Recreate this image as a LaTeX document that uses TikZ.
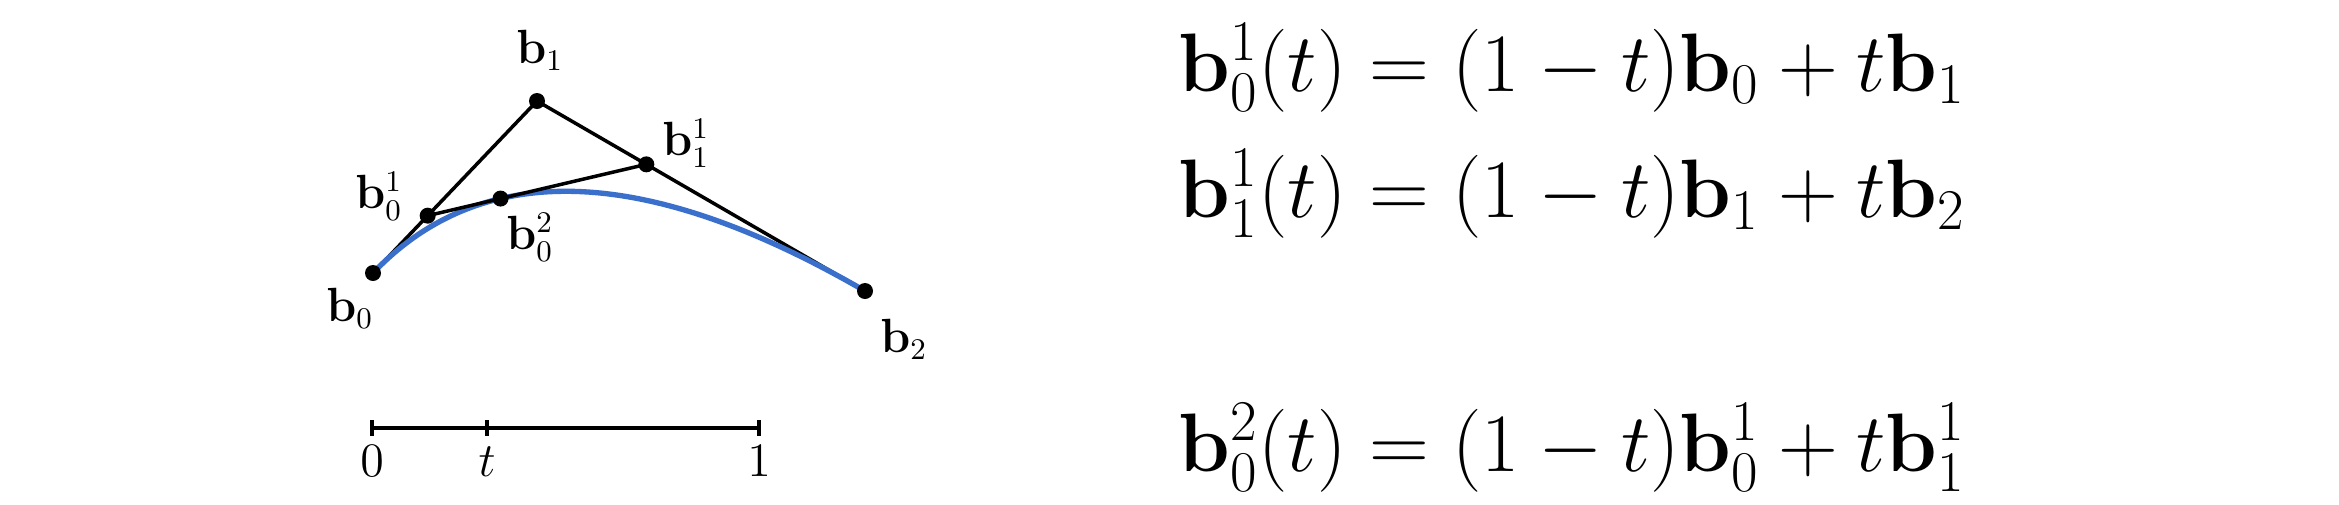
\documentclass[tikz,border=0pt]{standalone}
\usetikzlibrary{calc}
\definecolor{curveblue}{RGB}{58,112,204}
\begin{document}
\begin{tikzpicture}[x=0.3pt,y=-0.3pt,
  dot/.style={circle,fill=black,inner sep=0pt,minimum size=4.8pt},
  poly/.style={line width=1.05pt,line cap=round,line join=round},
  lbl/.style={inner sep=0pt,font=\fontsize{13.5}{16}\selectfont},
  numlbl/.style={inner sep=0pt,anchor=base,font=\fontsize{14.5}{17}\selectfont},
  eqn/.style={inner sep=0pt,anchor=base west,font=\fontsize{23.5}{28}\selectfont},
  numline/.style={line width=1.4pt}]
\useasboundingbox[fill=white] (0,0) rectangle (2339,504);
% control points
\coordinate (b0) at (373,273);
\coordinate (b1) at (537,101);
\coordinate (b2) at (865,291);
\coordinate (b01) at ($(b0)!1/3!(b1)$);
\coordinate (b11) at ($(b1)!1/3!(b2)$);
\coordinate (b02) at ($(b01)!1/3!(b11)$);
% control polygon
\draw[poly] (b0) -- (b1) -- (b2);
% curve
\draw[line width=1.6pt,curveblue] (b0) .. controls ($(b0)!2/3!(b1)$) and ($(b2)!2/3!(b1)$) .. (b2);
\draw[poly] (b01) -- (b11);
% dots
\node[dot] (d0) at (b0) {};
\node[dot] (d1) at (b1) {};
\node[dot] (d2) at (b2) {};
\node[dot] (d01) at (b01) {};
\node[dot] (d11) at (b11) {};
\node[dot] (d02) at (b02) {};
% labels
\node[lbl] (l1) at (540,50) {$\mathbf{b}_1$};
\node[lbl] (l11) at (686,143) {$\mathbf{b}_1^1$};
\node[lbl] (l01) at (379,196) {$\mathbf{b}_0^1$};
\node[lbl] (l02) at (530,237) {$\mathbf{b}_0^2$};
\node[lbl] (l0) at (350,308) {$\mathbf{b}_0$};
\node[lbl] (l2) at (904,339) {$\mathbf{b}_2$};
% number line
\coordinate (n0) at (372,428);
\coordinate (nt) at (487,428);
\coordinate (n1) at (759,428);
\draw[numline] (n0) -- (n1);
\foreach \p in {n0,nt,n1} \draw[numline] ($(\p)+(0,-8)$) -- ($(\p)+(0,8)$);
\node[numlbl] (t0) at (372,476) {$0$};
\node[numlbl] (tt) at (487,476) {$t$};
\node[numlbl] (t1) at (759,476) {$1$};
% equations
\node[eqn] (e1) at (1178,91) {$\mathbf{b}_0^1(t) = (1-t)\mathbf{b}_0 + t\mathbf{b}_1$};
\node[eqn] (e2) at (1178,217) {$\mathbf{b}_1^1(t) = (1-t)\mathbf{b}_1 + t\mathbf{b}_2$};
\node[eqn] (e3) at (1178,471) {$\mathbf{b}_0^2(t) = (1-t)\mathbf{b}_0^1 + t\mathbf{b}_1^1$};
\end{tikzpicture}
\end{document}
